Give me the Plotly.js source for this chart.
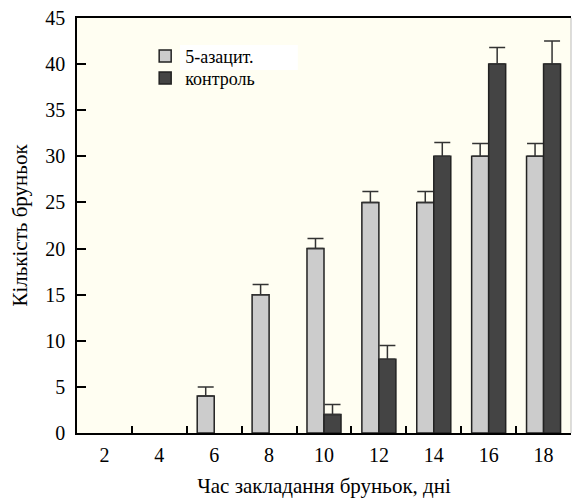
<!DOCTYPE html>
<html>
<head>
<meta charset="utf-8">
<script src="https://cdn.plot.ly/plotly-3.0.1.min.js"></script>
<style>
html,body{margin:0;padding:0;background:#fff;}
#chart{width:572px;height:499px;}
.modebar-container{display:none !important;}
</style>
</head>
<body>
<div id="chart"></div>
<script>
const days = ['2','4','6','8','10','12','14','16','18'];
const azaValues = [null, null, 4, 15, 20, 25, 25, 30, 30];
const azaErrors = [null, null, 1.0, 1.1, 1.1, 1.2, 1.2, 1.4, 1.4];
const controlValues = [null, null, null, null, 2, 8, 30, 40, 40];
const controlErrors = [null, null, null, null, 1.1, 1.5, 1.5, 1.8, 2.5];
const seriesNames = ['5-азацит.', 'контроль'];
const yTicks = [0, 5, 10, 15, 20, 25, 30, 35, 40, 45];

const serif = 'Liberation Serif, serif';
const zeros = a => a.map(v => v === null ? null : 0);

const traces = [
  {
    type: 'bar', name: seriesNames[0], x: days, y: azaValues, legend: 'legend',
    marker: {color: '#cccccc', line: {color: '#222222', width: 1.5}},
    error_y: {type: 'data', symmetric: false, array: azaErrors, arrayminus: zeros(azaErrors),
              color: '#333333', thickness: 1.5, width: 8}
  },
  {
    type: 'bar', name: seriesNames[1], x: days, y: controlValues, legend: 'legend2',
    marker: {color: '#444444', line: {color: '#222222', width: 1.5}},
    error_y: {type: 'data', symmetric: false, array: controlErrors, arrayminus: zeros(controlErrors),
              color: '#333333', thickness: 1.5, width: 8}
  }
];

const legendFont = {family: serif, size: 18};

const layout = {
  width: 572, height: 499,
  margin: {l: 77, r: 1, t: 18, b: 66, pad: 0},
  paper_bgcolor: '#ffffff',
  plot_bgcolor: '#fffef2',
  barmode: 'group', bargap: 0.38, bargroupgap: 0,
  font: {family: serif, size: 18},
  showlegend: true,
  legend: {x: 0.138, y: 0.952, xanchor: 'left', yanchor: 'top', bgcolor: 'rgba(0,0,0,0)', font: legendFont},
  legend2: {x: 0.138, y: 0.899, xanchor: 'left', yanchor: 'top', bgcolor: 'rgba(0,0,0,0)', font: legendFont},
  xaxis: {
    type: 'category', range: [-0.5, 8.5],
    showline: true, linecolor: '#000', linewidth: 1.5, mirror: true,
    ticks: 'inside', tickson: 'boundaries', ticklen: 7, tickwidth: 1.5, tickcolor: '#000',
    showgrid: false, zeroline: false,
    tickfont: {family: serif, size: 20}, ticklabelstandoff: 3,
    title: {text: 'Час закладання бруньок, дні', font: {family: serif, size: 21}, standoff: 14}
  },
  yaxis: {
    range: [0, 45], tickvals: yTicks, ticktext: yTicks.map(String),
    showline: true, linecolor: '#000', linewidth: 1.5, mirror: false,
    ticks: 'inside', ticklen: 9, tickwidth: 1.5, tickcolor: '#000',
    showgrid: false, zeroline: false,
    tickfont: {family: serif, size: 20}, ticklabelstandoff: 6,
    title: {text: 'Кількість бруньок', font: {family: serif, size: 21}, standoff: 12}
  },
  shapes: [
    {type: 'rect', xref: 'paper', yref: 'paper', x0: 0.2085, x1: 0.447, y0: 0.875, y1: 0.935,
     fillcolor: '#ffffff', line: {width: 0}, layer: 'below'},
    {type: 'line', xref: 'paper', yref: 'paper', x0: 1, x1: 1, y0: 0, y1: 1,
     line: {color: '#bbbbbb', width: 1}}
  ]
};

Plotly.newPlot('chart', traces, layout).then(() => {
  document.querySelectorAll('#chart svg text').forEach(t => {
    t.style.setProperty('fill', '#000000');
  });
});
</script>
</body>
</html>
